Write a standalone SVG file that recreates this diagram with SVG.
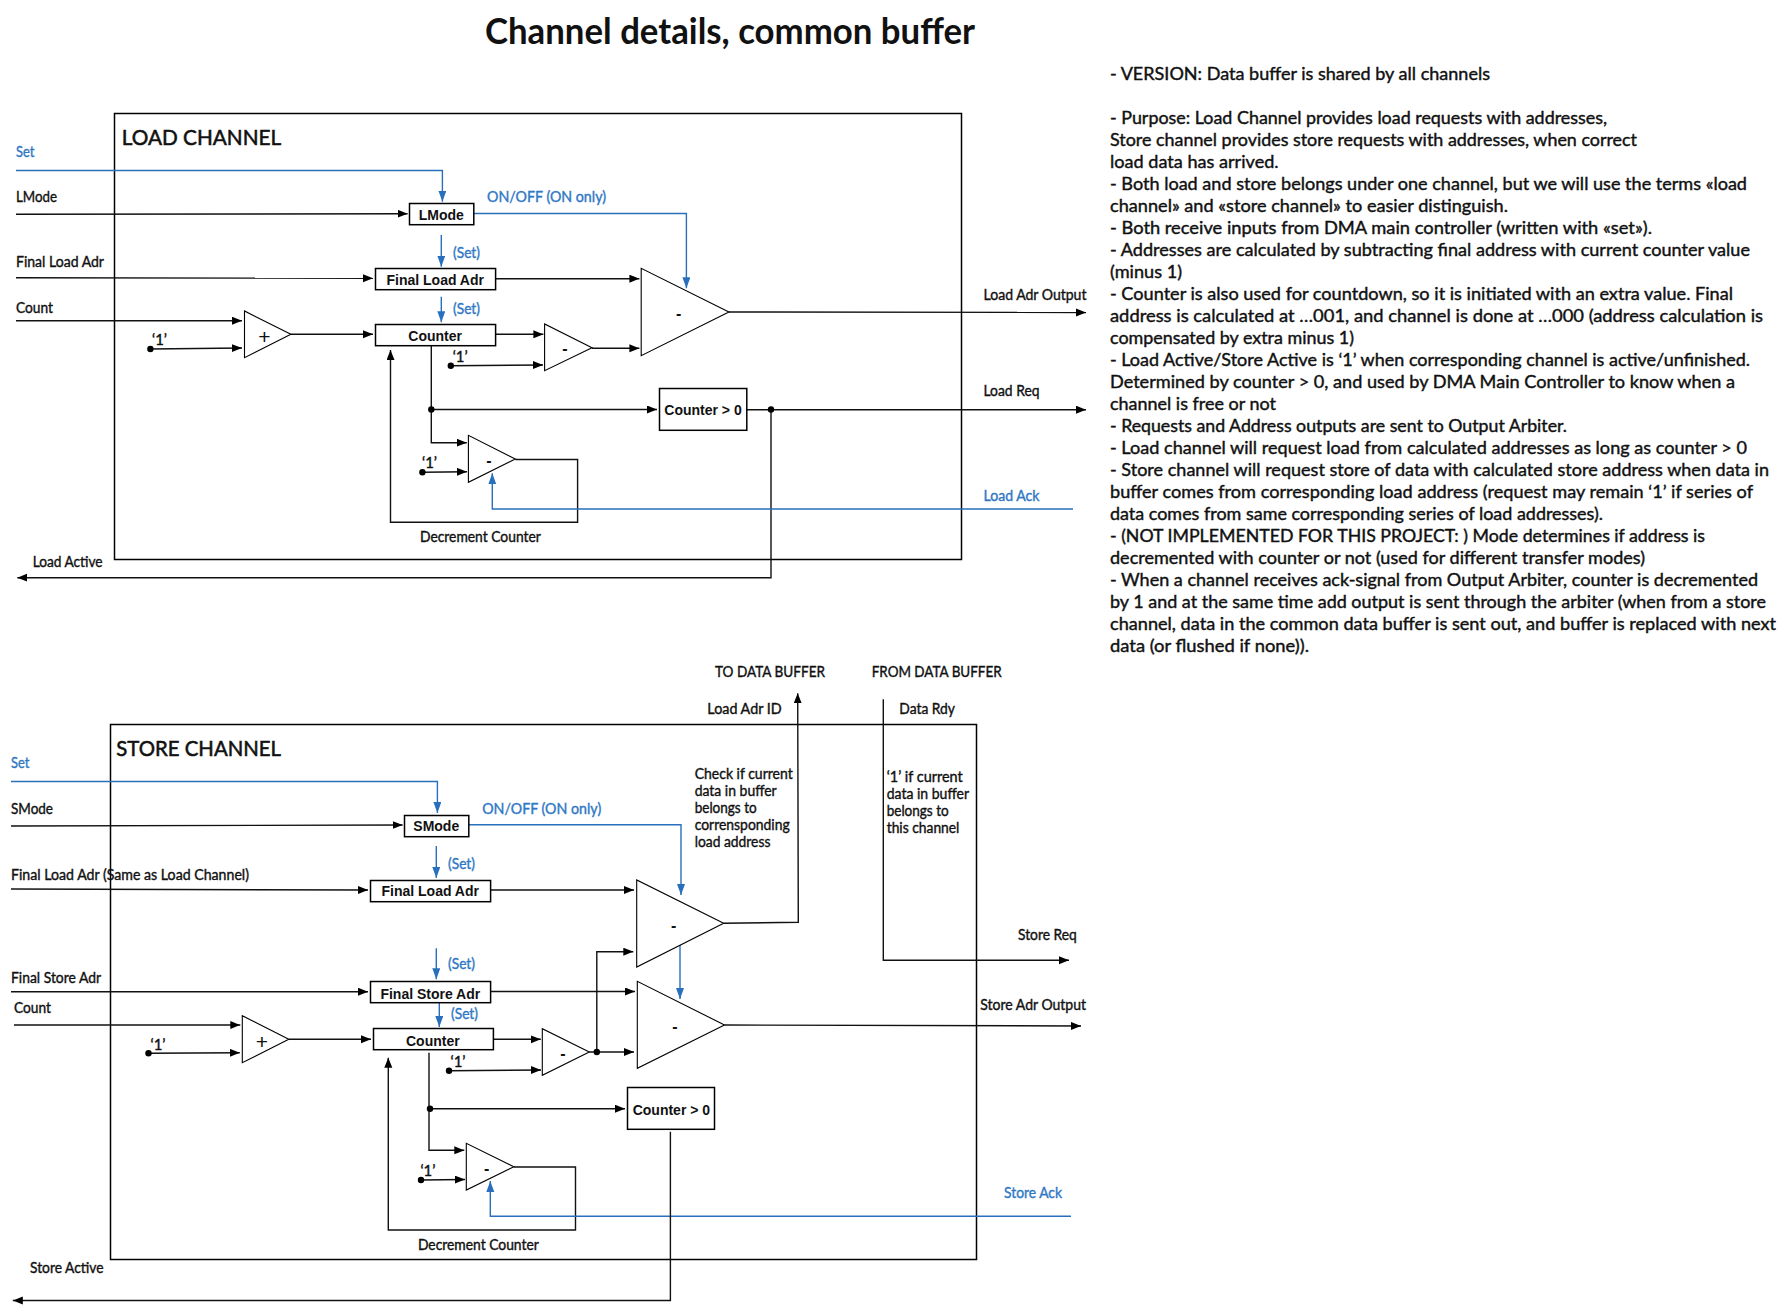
<svg xmlns="http://www.w3.org/2000/svg" width="1787" height="1316" viewBox="0 0 1787 1316">
<style>
text{font-family:"Lato","Open Sans","Liberation Sans",sans-serif;fill:#111;font-size:14.5px;stroke:#111;stroke-width:.38px}
.blue{fill:#2f78c4;stroke:#2f78c4}
.title{font-size:36px;font-weight:700;stroke:none}
.head{font-size:21px;stroke-width:.55px}
.note{font-size:18px;stroke-width:.42px}
.box{font-family:"Liberation Sans",Arial,sans-serif;font-weight:700;font-size:14px;stroke:none}
.sign{font-family:"Liberation Sans",Arial,sans-serif;font-size:21px;text-anchor:middle;stroke:none}
.signb{font-family:"Liberation Sans",Arial,sans-serif;font-size:16px;font-weight:700;text-anchor:middle;stroke:none}
rect.n,.frame{fill:none;stroke:#000;stroke-width:1.5}
rect.n{fill:#fff}
polygon.t{fill:#fff;stroke:#000;stroke-width:1.1}
.c{fill:none;stroke:#111;stroke-width:1.4;marker-end:url(#a)}
.cb{fill:none;stroke:#2870bd;stroke-width:1.4;marker-end:url(#b)}
.d{fill:#000}
</style>
<defs>
<marker id="a" markerUnits="userSpaceOnUse" markerWidth="10" markerHeight="9" refX="10" refY="4" orient="auto"><path d="M0 0L10 4L0 8Z" fill="#000"/></marker>
<marker id="b" markerUnits="userSpaceOnUse" markerWidth="12" markerHeight="9" refX="11" refY="4" orient="auto"><path d="M0 0L11 4L0 8Z" fill="#2870bd"/></marker>
</defs>
<rect width="1787" height="1316" fill="#fff"/>
<text id="title" class="title" x="485" y="43.7" textLength="490" lengthAdjust="spacingAndGlyphs">Channel details, common buffer</text>

<g id="load-frame"><rect class="frame" x="114.5" y="113.5" width="847" height="446"/><text class="head" x="121.7" y="144.6" textLength="159.5" lengthAdjust="spacingAndGlyphs">LOAD CHANNEL</text></g>
<g id="store-frame"><rect class="frame" x="110.5" y="724.5" width="866" height="535"/><text class="head" x="116.3" y="755.6" textLength="164.7" lengthAdjust="spacingAndGlyphs">STORE CHANNEL</text></g>

<g id="connectors">
<path class="cb" d="M16 170.5H442.4V201.7"/>
<path class="c" d="M16 214.3L407.6 213.7"/>
<path class="cb" d="M441.3 235V266.7"/>
<path class="c" d="M16 277.7L373 278.3"/>
<path class="cb" d="M441.3 296.7V322.3"/>
<path class="c" d="M16 320.7H242"/>
<path class="c" d="M150.4 349L242 348"/>
<path class="c" d="M290.9 334.3H373"/>
<path class="c" d="M495.6 334.3H543.4"/>
<path class="c" d="M450.8 365.7L543 365"/>
<path class="c" d="M431.3 345.7V442.7H466.8"/>
<path class="c" d="M431.3 409.5H657"/>
<path class="c" d="M746.8 409.7H1086"/>
<path class="c" d="M771 409.5V577.7H17.3"/>
<path class="c" d="M515.3 459.5H577.6V522.3H390.5V350"/>
<path class="c" d="M422.4 472.3L467 471.7"/>
<path class="cb" d="M1073 509H492.3V473.3"/>
<path class="c" d="M495.6 278.7H639.4"/>
<path class="c" d="M592 348.3H639.4"/>
<path class="c" d="M728.9 312L1086 312.5"/>
<path class="cb" d="M473.8 213.5H686.4V288.3"/>

<path class="cb" d="M11 781.5H437.4V813"/>
<path class="c" d="M11 826L402.6 825"/>
<path class="cb" d="M468.8 824.8H681V895"/>
<path class="cb" d="M436.3 846V878"/>
<path class="c" d="M11 889L368 890"/>
<path class="c" d="M490.6 890H634"/>
<path class="c" d="M723.7 923.3L798.3 922.3L797.7 693.3"/>
<path class="cb" d="M436.3 948.3V979.3"/>
<path class="c" d="M11 991.7H368"/>
<path class="c" d="M490.6 991.5H635"/>
<path class="cb" d="M439.3 1002.7V1027"/>
<path class="c" d="M14 1025H240.3"/>
<path class="c" d="M288.8 1039.3H371"/>
<path class="c" d="M148.5 1053.3L239.8 1052.7"/>
<path class="c" d="M493.4 1039.3H540.8"/>
<path class="c" d="M449 1070.7L541 1070"/>
<path class="c" d="M589.3 1052H634"/>
<path class="c" d="M596.8 1052V951.7H633.3"/>
<path class="cb" d="M680 945V999"/>
<path class="c" d="M724.5 1025L1081 1026"/>
<path class="c" d="M883.3 699.3V960.3H1069"/>
<path class="c" d="M429 1052.7V1150.3H464.3"/>
<path class="c" d="M430 1108.7H625"/>
<path class="c" d="M513.8 1167H575.5V1230H388.3V1057.7"/>
<path class="c" d="M421 1180L465 1179.5"/>
<path class="cb" d="M1071 1216.3H490.3V1181"/>
<path class="c" d="M670.4 1131.7V1300.5H12.8"/>
<circle class="d" cx="150.4" cy="349" r="3.2"/><circle class="d" cx="450.8" cy="365.7" r="3.2"/><circle class="d" cx="431.3" cy="409.5" r="3.2"/><circle class="d" cx="771" cy="409.5" r="3.2"/><circle class="d" cx="422.4" cy="472.3" r="3.2"/>
<circle class="d" cx="148.5" cy="1053.3" r="3.2"/><circle class="d" cx="449" cy="1070.7" r="3.2"/><circle class="d" cx="596.8" cy="1052" r="3.2"/><circle class="d" cx="430" cy="1108.7" r="3.2"/><circle class="d" cx="421" cy="1180" r="3.2"/>
</g>

<g id="lmode"><rect class="n" x="409.5" y="203.5" width="64.3" height="21.2"/><text class="box" x="418.8" y="220">LMode</text></g>
<g id="load-final"><rect class="n" x="375.5" y="268.5" width="120.1" height="21.2"/><text class="box" x="386.5" y="285.4">Final Load Adr</text></g>
<g id="load-counter"><rect class="n" x="375.5" y="324.5" width="120.1" height="21.2"/><text class="box" x="408.3" y="340.7">Counter</text></g>
<g id="load-gt0"><rect class="n" x="659.5" y="388.5" width="87.3" height="41.8"/><text class="box" x="664.3" y="415.4">Counter &gt; 0</text></g>
<g id="load-plus"><polygon class="t" points="244.5,311 244.5,357.7 290.9,334.3"/><text class="sign" x="264.4" y="343.8">+</text></g>
<g id="load-sub1"><polygon class="t" points="544.6,324 544.6,370.7 592,347.7"/><text class="signb" x="565" y="353.5">-</text></g>
<g id="load-sub2"><polygon class="t" points="641.2,268.3 641.2,355.7 728.9,312"/><text class="signb" x="678.7" y="318.5">-</text></g>
<g id="load-sub3"><polygon class="t" points="468.4,435.3 468.4,482.3 515.3,459"/><text class="signb" x="488.8" y="465.5">-</text></g>

<g id="smode"><rect class="n" x="404.5" y="815.5" width="64.3" height="21.2"/><text class="box" x="413.3" y="831.4">SMode</text></g>
<g id="store-final-load"><rect class="n" x="370.5" y="880.5" width="120.1" height="21.2"/><text class="box" x="381.5" y="896.4">Final Load Adr</text></g>
<g id="store-final-store"><rect class="n" x="370.5" y="981.5" width="120.1" height="21.2"/><text class="box" x="380.4" y="998.7">Final Store Adr</text></g>
<g id="store-counter"><rect class="n" x="373.5" y="1028.5" width="119.9" height="21.2"/><text class="box" x="406" y="1045.7">Counter</text></g>
<g id="store-gt0"><rect class="n" x="627.5" y="1087.5" width="87" height="41.8"/><text class="box" x="632.7" y="1114.7">Counter &gt; 0</text></g>
<g id="store-plus"><polygon class="t" points="242.3,1015.7 242.3,1062.7 288.8,1039.3"/><text class="sign" x="262" y="1048.8">+</text></g>
<g id="store-sub1"><polygon class="t" points="542.3,1028.7 542.3,1075.3 589.3,1052"/><text class="signb" x="562.8" y="1058.5">-</text></g>
<g id="store-sub2"><polygon class="t" points="636.7,880 636.7,967 723.7,923.3"/><text class="signb" x="673.7" y="930.5">-</text></g>
<g id="store-sub3"><polygon class="t" points="637.3,981.3 637.3,1068.3 724.5,1025"/><text class="signb" x="675" y="1031.5">-</text></g>
<g id="store-sub4"><polygon class="t" points="466.3,1143.3 466.3,1190 513.8,1166.7"/><text class="signb" x="486.7" y="1173.5">-</text></g>

<g id="labels" transform="translate(0,.7)">
<text class="blue" x="16" y="156" textLength="18.4" lengthAdjust="spacingAndGlyphs">Set</text>
<text x="16" y="201" textLength="41" lengthAdjust="spacingAndGlyphs">LMode</text>
<text x="16" y="266.7" textLength="88" lengthAdjust="spacingAndGlyphs">Final Load Adr</text>
<text x="16" y="312.3" textLength="37" lengthAdjust="spacingAndGlyphs">Count</text>
<text class="blue" x="487" y="201" textLength="119" lengthAdjust="spacingAndGlyphs">ON/OFF (ON only)</text>
<text class="blue" x="453" y="257" textLength="27" lengthAdjust="spacingAndGlyphs">(Set)</text>
<text class="blue" x="453" y="313" textLength="27" lengthAdjust="spacingAndGlyphs">(Set)</text>
<text x="152" y="344" textLength="15" lengthAdjust="spacingAndGlyphs">‘1’</text>
<text x="452.7" y="361" textLength="15" lengthAdjust="spacingAndGlyphs">‘1’</text>
<text x="422" y="467.7" textLength="15" lengthAdjust="spacingAndGlyphs">‘1’</text>
<text x="983.5" y="299.3" textLength="103" lengthAdjust="spacingAndGlyphs">Load Adr Output</text>
<text x="983.5" y="395.3" textLength="56" lengthAdjust="spacingAndGlyphs">Load Req</text>
<text class="blue" x="983.5" y="500.5" textLength="56" lengthAdjust="spacingAndGlyphs">Load Ack</text>
<text x="420" y="541" textLength="120.8" lengthAdjust="spacingAndGlyphs">Decrement Counter</text>
<text x="32.7" y="566.7" textLength="69.9" lengthAdjust="spacingAndGlyphs">Load Active</text>

<text x="715" y="676" textLength="110" lengthAdjust="spacingAndGlyphs">TO DATA BUFFER</text>
<text x="871.7" y="676" textLength="130" lengthAdjust="spacingAndGlyphs">FROM DATA BUFFER</text>
<text x="707.3" y="713" textLength="74.4" lengthAdjust="spacingAndGlyphs">Load Adr ID</text>
<text x="899.3" y="713" textLength="55.7" lengthAdjust="spacingAndGlyphs">Data Rdy</text>
<text class="blue" x="11" y="767" textLength="18.4" lengthAdjust="spacingAndGlyphs">Set</text>
<text x="11" y="813" textLength="42" lengthAdjust="spacingAndGlyphs">SMode</text>
<text class="blue" x="482.2" y="813" textLength="119" lengthAdjust="spacingAndGlyphs">ON/OFF (ON only)</text>
<text class="blue" x="448" y="868" textLength="27" lengthAdjust="spacingAndGlyphs">(Set)</text>
<text x="11" y="879" textLength="238" lengthAdjust="spacingAndGlyphs">Final Load Adr (Same as Load Channel)</text>
<text class="blue" x="448" y="968.3" textLength="27" lengthAdjust="spacingAndGlyphs">(Set)</text>
<text x="11" y="982.3" textLength="90" lengthAdjust="spacingAndGlyphs">Final Store Adr</text>
<text class="blue" x="451" y="1018.3" textLength="27" lengthAdjust="spacingAndGlyphs">(Set)</text>
<text x="14" y="1012.3" textLength="37" lengthAdjust="spacingAndGlyphs">Count</text>
<text x="150.5" y="1049" textLength="15" lengthAdjust="spacingAndGlyphs">‘1’</text>
<text x="450.5" y="1066" textLength="15" lengthAdjust="spacingAndGlyphs">‘1’</text>
<text x="420.4" y="1175.3" textLength="15" lengthAdjust="spacingAndGlyphs">‘1’</text>
<text x="694.7" y="778.3" textLength="98" lengthAdjust="spacingAndGlyphs">Check if current</text>
<text x="694.7" y="795.3" textLength="82" lengthAdjust="spacingAndGlyphs">data in buffer</text>
<text x="694.7" y="812.3" textLength="62" lengthAdjust="spacingAndGlyphs">belongs to</text>
<text x="694.7" y="829.3" textLength="95" lengthAdjust="spacingAndGlyphs">corrensponding</text>
<text x="694.7" y="846" textLength="75.7" lengthAdjust="spacingAndGlyphs">load address</text>
<text x="886.7" y="781.3" textLength="76" lengthAdjust="spacingAndGlyphs">‘1’ if current</text>
<text x="886.7" y="798.3" textLength="82.3" lengthAdjust="spacingAndGlyphs">data in buffer</text>
<text x="886.7" y="815.3" textLength="62" lengthAdjust="spacingAndGlyphs">belongs to</text>
<text x="886.7" y="832.3" textLength="72.7" lengthAdjust="spacingAndGlyphs">this channel</text>
<text x="1018" y="939" textLength="58.7" lengthAdjust="spacingAndGlyphs">Store Req</text>
<text x="980.3" y="1009" textLength="105.7" lengthAdjust="spacingAndGlyphs">Store Adr Output</text>
<text class="blue" x="1004" y="1197" textLength="58" lengthAdjust="spacingAndGlyphs">Store Ack</text>
<text x="417.9" y="1249" textLength="120.9" lengthAdjust="spacingAndGlyphs">Decrement Counter</text>
<text x="30" y="1272.3" textLength="73.6" lengthAdjust="spacingAndGlyphs">Store Active</text>
</g>

<g id="notes">
<text class="note" x="1110" y="80" textLength="380" lengthAdjust="spacingAndGlyphs">- VERSION: Data buffer is shared by all channels</text>
<text class="note" x="1110" y="124" textLength="497" lengthAdjust="spacingAndGlyphs">- Purpose: Load Channel provides load requests with addresses,</text>
<text class="note" x="1110" y="146" textLength="527" lengthAdjust="spacingAndGlyphs">Store channel provides store requests with addresses, when correct</text>
<text class="note" x="1110" y="168" textLength="168.6" lengthAdjust="spacingAndGlyphs">load data has arrived.</text>
<text class="note" x="1110" y="190" textLength="637" lengthAdjust="spacingAndGlyphs">- Both load and store belongs under one channel, but we will use the terms «load</text>
<text class="note" x="1110" y="212" textLength="398" lengthAdjust="spacingAndGlyphs">channel» and «store channel» to easier distinguish.</text>
<text class="note" x="1110" y="234" textLength="542" lengthAdjust="spacingAndGlyphs">- Both receive inputs from DMA main controller (written with «set»).</text>
<text class="note" x="1110" y="256" textLength="640" lengthAdjust="spacingAndGlyphs">- Addresses are calculated by subtracting final address with current counter value</text>
<text class="note" x="1110" y="278" textLength="72" lengthAdjust="spacingAndGlyphs">(minus 1)</text>
<text class="note" x="1110" y="300" textLength="623" lengthAdjust="spacingAndGlyphs">- Counter is also used for countdown, so it is initiated with an extra value. Final</text>
<text class="note" x="1110" y="322" textLength="653" lengthAdjust="spacingAndGlyphs">address is calculated at …001, and channel is done at …000 (address calculation is</text>
<text class="note" x="1110" y="344" textLength="244" lengthAdjust="spacingAndGlyphs">compensated by extra minus 1)</text>
<text class="note" x="1110" y="366" textLength="640" lengthAdjust="spacingAndGlyphs">- Load Active/Store Active is ‘1’ when corresponding channel is active/unfinished.</text>
<text class="note" x="1110" y="388" textLength="625" lengthAdjust="spacingAndGlyphs">Determined by counter &gt; 0, and used by DMA Main Controller to know when a</text>
<text class="note" x="1110" y="410" textLength="166" lengthAdjust="spacingAndGlyphs">channel is free or not</text>
<text class="note" x="1110" y="432" textLength="457" lengthAdjust="spacingAndGlyphs">- Requests and Address outputs are sent to Output Arbiter.</text>
<text class="note" x="1110" y="454" textLength="637" lengthAdjust="spacingAndGlyphs">- Load channel will request load from calculated addresses as long as counter &gt; 0</text>
<text class="note" x="1110" y="476" textLength="659" lengthAdjust="spacingAndGlyphs">- Store channel will request store of data with calculated store address when data in</text>
<text class="note" x="1110" y="498" textLength="643" lengthAdjust="spacingAndGlyphs">buffer comes from corresponding load address (request may remain ‘1’ if series of</text>
<text class="note" x="1110" y="520" textLength="493" lengthAdjust="spacingAndGlyphs">data comes from same corresponding series of load addresses).</text>
<text class="note" x="1110" y="542" textLength="595" lengthAdjust="spacingAndGlyphs">- (NOT IMPLEMENTED FOR THIS PROJECT: ) Mode determines if address is</text>
<text class="note" x="1110" y="564" textLength="535" lengthAdjust="spacingAndGlyphs">decremented with counter or not (used for different transfer modes)</text>
<text class="note" x="1110" y="586" textLength="648" lengthAdjust="spacingAndGlyphs">- When a channel receives ack-signal from Output Arbiter, counter is decremented</text>
<text class="note" x="1110" y="608" textLength="656" lengthAdjust="spacingAndGlyphs">by 1 and at the same time add output is sent through the arbiter (when from a store</text>
<text class="note" x="1110" y="630" textLength="666" lengthAdjust="spacingAndGlyphs">channel, data in the common data buffer is sent out, and buffer is replaced with next</text>
<text class="note" x="1110" y="652" textLength="199" lengthAdjust="spacingAndGlyphs">data (or flushed if none)).</text>
</g>
</svg>
